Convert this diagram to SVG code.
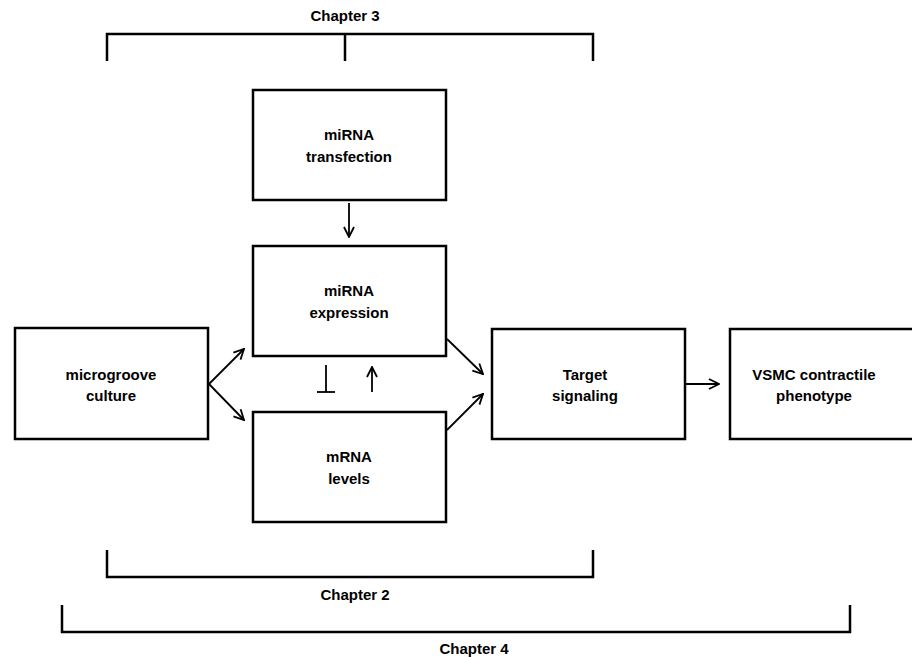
<svg xmlns="http://www.w3.org/2000/svg" width="912" height="657" viewBox="0 0 912 657">
<defs>
<style>
.box{fill:#fff;stroke:#000;stroke-width:2.5}
.t{font-family:"Liberation Sans",Arial,sans-serif;font-weight:bold;font-size:15px;text-anchor:middle;fill:#000}
.br{fill:none;stroke:#000;stroke-width:2.5}
.c{fill:none;stroke:#000;stroke-width:1.8}
</style>
<marker id="ah" viewBox="0 0 12 12" refX="11" refY="6" markerWidth="12" markerHeight="12" markerUnits="userSpaceOnUse" orient="auto">
<polyline points="1,1 11,6 1,11" fill="none" stroke="#000" stroke-width="1.8"/>
</marker>
</defs>
<rect width="912" height="657" fill="#fff"/>
<g id="brackets">
<path class="br" d="M107,61 V34 H593 V61 M345,34 V61"/>
<text class="t" x="345" y="21">Chapter 3</text>
<path class="br" d="M107,550 V577 H593 V550"/>
<text class="t" x="355" y="600">Chapter 2</text>
<path class="br" d="M62,605 V632 H850 V605"/>
<text class="t" x="474" y="654">Chapter 4</text>
</g>
<g id="transfection"><rect class="box" x="253" y="90" width="193" height="110"/><text class="t" x="349" y="140">miRNA</text><text class="t" x="349" y="162">transfection</text></g>
<g id="expression"><rect class="box" x="253" y="246" width="193" height="110"/><text class="t" x="349" y="296">miRNA</text><text class="t" x="349" y="318">expression</text></g>
<g id="mrna"><rect class="box" x="253" y="412" width="193" height="110"/><text class="t" x="349" y="462">mRNA</text><text class="t" x="349" y="484">levels</text></g>
<g id="microgroove"><rect class="box" x="15" y="328" width="193" height="111"/><text class="t" x="111" y="380">microgroove</text><text class="t" x="111" y="401">culture</text></g>
<g id="target"><rect class="box" x="492" y="329" width="193" height="110"/><text class="t" x="585" y="380">Target</text><text class="t" x="585" y="401">signaling</text></g>
<g id="vsmc"><rect class="box" x="730" y="329" width="190" height="110"/><text class="t" x="814" y="380">VSMC contractile</text><text class="t" x="814" y="401">phenotype</text></g>
<g id="connectors">
<line class="c" x1="349" y1="203" x2="349" y2="237" marker-end="url(#ah)"/>
<line class="c" x1="209" y1="384" x2="244" y2="349" marker-end="url(#ah)"/>
<line class="c" x1="209" y1="384" x2="244" y2="420" marker-end="url(#ah)"/>
<line class="c" x1="326" y1="365" x2="326" y2="392"/>
<line class="c" x1="317" y1="392" x2="335" y2="392"/>
<line class="c" x1="372" y1="392" x2="372" y2="367" marker-end="url(#ah)"/>
<line class="c" x1="447" y1="339" x2="483" y2="374" marker-end="url(#ah)"/>
<line class="c" x1="447" y1="430" x2="483" y2="394" marker-end="url(#ah)"/>
<line class="c" x1="686" y1="384" x2="719" y2="384" marker-end="url(#ah)"/>
</g>
</svg>
